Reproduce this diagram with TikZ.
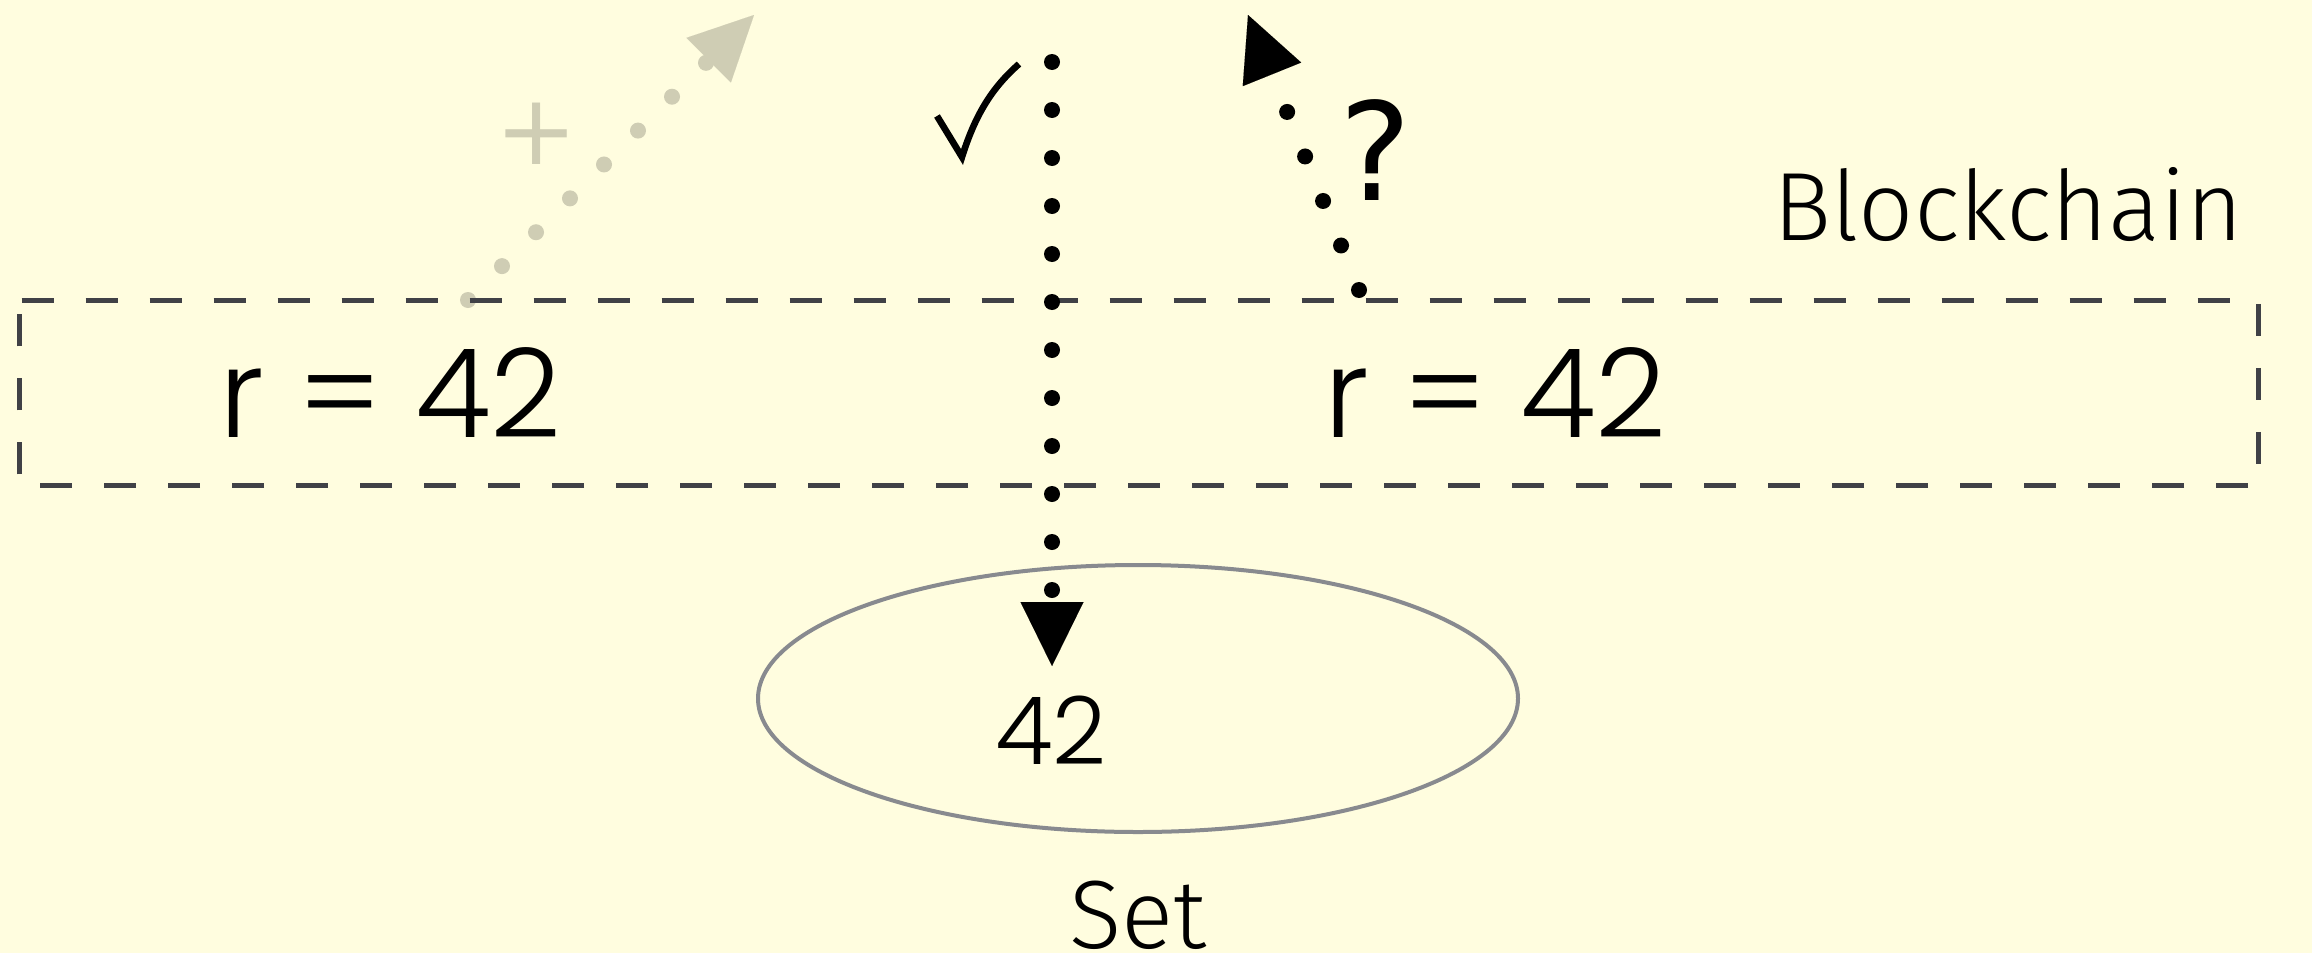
\documentclass[tikz,border=0pt]{standalone}
\usepackage{fontspec}
\setmainfont{Fira Sans}[UprightFont=* Light]
\newfontfamily\digitfont{Poppins}[UprightFont=* Light]
\newfontfamily\symfont{DejaVu Sans}
\usetikzlibrary{arrows.meta,shapes.geometric}
\definecolor{bgc}{HTML}{FFFDDF}
\definecolor{rectc}{HTML}{404146}
\definecolor{ellc}{HTML}{888A8F}
\definecolor{ghostc}{HTML}{CFCDB4}
\begin{document}
\begin{tikzpicture}[x=0.5pt,y=-0.5pt,
  dotline/.style={line width=8pt, line cap=round, dash pattern=on 0pt off 24pt,
    -{Triangle[length=32pt,width=31.5pt,line width=0.01pt]}},
  chainline/.style={draw=rectc, line width=2.5pt, dash pattern=on 16pt off 16pt, dash phase=30.75pt},
  txt/.style={font=\fontsize{48.5pt}{58pt}\selectfont, inner sep=0pt},
  dig/.style={font=\digitfont\fontsize{47pt}{58pt}\selectfont, inner sep=0pt},
  digbig/.style={font=\digitfont\fontsize{61.7pt}{74pt}\selectfont, inner sep=0pt},
  symbig/.style={font=\symfont\fontsize{68pt}{80pt}\selectfont, inner sep=0pt},
  symsmall/.style={font=\symfont\fontsize{49pt}{58pt}\selectfont, inner sep=0pt, text=ghostc},
  checkline/.style={line width=3.3pt, line join=miter},
  setshape/.style={draw=ellc, line width=2pt, ellipse, inner sep=0pt}
]
\fill[bgc] (0,0) rectangle (2312,953);
\useasboundingbox (0,0) rectangle (2312,953);

% named coordinates for free connector ends
\coordinate (g0) at (468,300);
\coordinate (g1) at (754,15);
\coordinate (v0) at (1052,62);
\coordinate (v1) at (1052,666);
\coordinate (b0) at (1359,290);
\coordinate (b1) at (1248,15);

% gray (ghost) arrow
\draw[dotline, draw=ghostc] (g0) -- (g1);
\node[symsmall] (plus) at (537,134) {+};

% blockchain box
\node[minimum width=1119.25pt, minimum height=92pt, inner sep=0pt] (chain) at (1138.75,393) {};
\draw[chainline] (chain.north west) -- (chain.north east) -- (chain.south east) -- (chain.south west) -- cycle;
\node[digbig, anchor=base] (rl) at (390.5,437) {r = 42};
\node[digbig, anchor=base] (rr) at (1495.5,437) {r = 42};
\node[txt, anchor=base] (bc) at (2008.5,240) {Blockchain};

% set
\node[setshape, minimum width=380pt, minimum height=133.5pt] (set) at (1138,698.5) {};
\node[dig, anchor=base] (n42) at (1051,764) {42};
\node[txt, anchor=base] (setlbl) at (1138,948) {Set};

% black arrows
\draw[dotline, draw=black] (v0) -- (v1);
\draw[dotline, draw=black] (b0) -- (b1);
\coordinate (c0) at (937,116);
\coordinate (c1) at (962,157);
\coordinate (c2) at (1019,64);
\draw[checkline] (c0) -- (c1) .. controls (976,112) and (994,86) .. (c2);
\node[symbig] (q) at (1376,150) {?};
\end{tikzpicture}
\end{document}
